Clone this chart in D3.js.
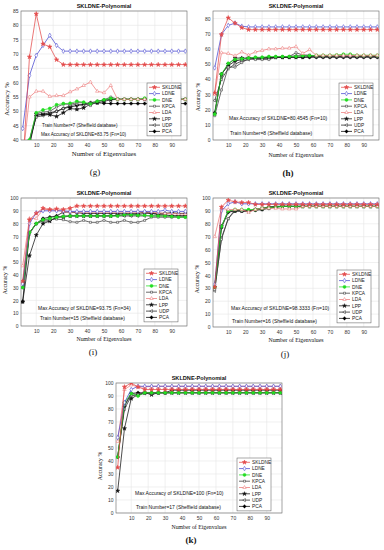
<!DOCTYPE html>
<html><head><meta charset="utf-8">
<script src="https://cdn.jsdelivr.net/npm/d3@7"></script>
<style>body{margin:0;background:#fff}svg{display:block}</style>
</head><body><svg id="c" width="384" height="550"></svg>
<script>
const eigenvalues = [2,6,10,14,18,22,26,30,34,38,42,46,50,54,58,62,66,70,74,78,82,86,90,94,98];
const seriesNames = ["SKLDNE","LDNE","DNE","KPCA","LDA","LPP","UDP","PCA"];
const xTickValues = [10,20,30,40,50,60,70,80,90];
const yTicksG = [40,45,50,55,60,65,70,75,80,85];
const yTicksH = [0,10,20,30,40,50,60,70,80];
const yTicks100 = [0,10,20,30,40,50,60,70,80,90,100];

// (g) Train Number = 7
const gSKLDNE = [30,69,84,73.5,72.5, 68,66.3,66.3,66.3,66.3, 66.3,66.3,66.3,66.3,66.3, 66.3,66.3,66.3,66.3,66.3, 66.3,66.3,66.3,66.3,66.3];
const gLDNE   = [44,62.5,69.5,73,76.5, 73,71,71,71,71, 71,71,71,71,71, 71,71,71,71,71, 71,71,71,71,71];
const gDNE    = [33,40,49.5,50.5,51, 52.3,52.7,52.8,53.5,53.2, 52.6,53.5,54,54.5,54.2, 54.2,54.2,54.2,54.6,54.4, 54.2,54.2,54.2,54.2,54.2];
const gKPCA   = [32,40,49.3,49.7,50, 51.5,52.5,52.5,53,53, 52,53.5,54,55,54.2, 54.2,54.2,54.2,54.2,54.2, 54.2,54.2,54.2,54.2,54.2];
const gLDA    = [33,55,57,57,55.2, 55.5,55.5,56.8,57.8,59, 60.2,57,56.5,59,54.2, 54.2,54.2,54.2,54.2,54.2, 54.2,54.2,54.2,54.2,54.2];
const gLPP    = [30,38,49,49,48.8, 48.2,49.5,51,50.7,51.2, 52.5,53,53.5,54,54.2, 54.2,54.2,54.2,54.2,54.2, 54.2,54.2,54.2,54.2,54.2];
const gUDP    = [31,40,48,48.5,49, 50,51,52,52.5,52, 53,53.5,54,54.2,54.2, 54.2,54.2,54.2,54.2,54.2, 54.2,54.2,54.2,54.2,54.2];
const gPCA    = [30,39,48.5,49,49.5, 50,51,51.5,52,52.5, 53,53,52.8,52.7,52.7, 52.7,52.7,52.7,52.7,52.7, 52.7,52.7,52.7,52.7,52.7];

// (h) Train Number = 8
const hSKLDNE = [31,69.5,80.5,77,74, 72.7,72.7,72.7,72.7,72.7, 72.7,72.7,72.7,72.7,72.7, 72.7,72.7,72.7,72.7,72.7, 72.7,72.7,72.7,72.7,72.7];
const hLDNE   = [47.5,69.5,75.5,77,75, 74.5,74.5,74.5,74.5,74.5, 74.5,74.5,74.5,74.5,74.5, 74.5,74.5,74.5,74.5,74.5, 74.5,74.5,74.5,74.5,74.5];
const hDNE    = [17,43.5,50.5,53,53.5, 54,54.5,54.5,55,55, 55,55,55,55.5,55.5, 55.8,55.8,55.8,56,56.5, 56.5,55.8,55.8,55.8,55.8];
const hKPCA   = [16,33,48,48,51, 53.5,53,53,53,54.5, 55,55,57.5,56,56, 55,55,55,55,55, 55,55,55,55,55];
const hLDA    = [30,57.5,57,55.5,58, 56,58,59,60,60, 60.5,60.5,61.5,57,59.5, 55.8,55.8,55.8,55.8,55.8, 55.8,55.8,55.8,55.8,55.8];
const hLPP    = [17,43,50,54,54, 54,54,54,54.5,54.5, 54.5,54.5,54.5,54.5,55, 55,55,55,55,55, 55,55,55,55,55];
const hUDP    = [26,40,47,50,52, 53,54,54,54,54.5, 54.5,55,55.5,55.5,55.5, 55.5,55.5,55.5,55.5,55.5, 55.5,55.5,55.5,55.5,55.5];
const hPCA    = [18,43.5,49,52,53, 54,54,54,54,54.5, 54.5,54.5,54.5,54.5,54.5, 54.5,54.5,54.5,54.5,54.5, 54.5,54.5,54.5,54.5,54.5];

// (i) Train Number = 15
const iSKLDNE = [35,83,88,92,91, 91.5,91,92,93.75,93.75, 93.75,93.75,93.75,93.75,93.75, 93.75,93.75,93.75,93.75,93.75, 93.75,93.75,93.75,93.75,93.75];
const iLDNE   = [33,80,88.5,90,90, 90,90,89.5,89.5,89.5, 89.5,89.5,89.5,89.5,89.5, 89.5,89.5,89.5,89.5,89.5, 89.5,90.5,89.5,89.5,89.5];
const iDNE    = [30,73,80,83,84, 85,85.5,86,86,86, 86,86,86,86,86, 87,87,86.5,86.5,86, 86,86,85.5,85,85];
const iKPCA   = [30,73,80,83,83, 83.5,83,81.5,81,82.5, 81,81,82.5,81,81, 82.5,81,81,82.5,85, 85,85,85,85,85];
const iLDA    = [47,84,84,91,91, 90.5,89.5,89,89,89, 89,89,89,89,89, 89,89,89,89,89, 88.5,88,88,87.5,87.5];
const iLPP    = [19,55,71,80,82, 85,85,86,86,86, 86,86,86,86,86.5, 87,87,87,88,88, 87,87,86,86,86];
const iUDP    = [30,72,80,82,82, 85,86,86,86,86, 86,86,86,86,86, 86,86,86,86,86, 86,86,86,86,86];
const iPCA    = [19,73,80,84,85, 86,89,89,88.5,88, 88,88,88,88,88, 88,88,88,89,88, 88,88,88.5,88,88];

// (j) Train Number = 16
const jSKLDNE = [31,93,98.3,97,96.5, 96.5,95,95,95,95, 95,95,95,95,95, 95,95,95,95,95, 95,95,95,95,95];
const jLDNE   = [33,90,95.5,97,95.5, 95.5,95.5,95.5,95.5,95.5, 95.5,95.5,95.5,95.5,95.5, 95.5,95.5,95.5,95.5,95.5, 95.5,95.5,95.5,95.5,95.5];
const jDNE    = [31,78,90,91,91, 91,91,92,92.5,93, 93.5,93.5,93.5,93.5,93.5, 93.5,93.5,93.5,93.5,93.5, 93.5,93.5,93.5,93.5,93.5];
const jKPCA   = [29,68,84,91,90, 90.5,91,92,93,93.5, 93.5,93.5,93.5,93.5,93.5, 93.5,93.5,93.5,93.5,93.5, 93.5,93.5,93.5,93.5,93.5];
const jLDA    = [70,92,91,91,91, 89,91,92,92,92, 91.5,91.5,91.5,93.5,93.5, 93.5,93.5,93.5,93.5,93.5, 93.5,93.5,93.5,93.5,93.5];
const jLPP    = [31,78,90,90,90, 89.5,91,91.5,92.5,93, 93.5,93.5,93.5,93.5,93.5, 93.5,93.5,93.5,93.5,93.5, 93.5,93.5,93.5,93.5,93.5];
const jUDP    = [28,69,84,90,90, 90,91,92,93,93.5, 93.5,93.5,93.5,93.5,93.5, 93.5,93.5,93.5,93.5,93.5, 93.5,93.5,93.5,93.5,93.5];
const jPCA    = [31,77,89,90,90, 90,90.5,91,92,93, 93.5,93.5,93.5,93.5,93.5, 93.5,93.5,93.5,93.5,93.5, 93.5,93.5,93.5,93.5,93.5];

// (k) Train Number = 17
const kSKLDNE = [35,97,100,97,95, 95,95,95,95,95, 95,95,95,95,95, 95,95,95,95,95, 95,95,95,95,95];
const kLDNE   = [58,85,95,97.5,97.5, 97.5,97.5,97.5,97.5,97.5, 97.5,97.5,97.5,97.5,97.5, 97.5,97.5,97.5,97.5,97.5, 97.5,97.5,97.5,97.5,97.5];
const kDNE    = [43,85,92,90,92.5, 92.5,92.5,92.5,92.5,92.5, 92.5,92.5,92.5,92.5,92.5, 92.5,92.5,92.5,92.5,92.5, 92.5,92.5,92.5,92.5,92.5];
const kKPCA   = [43,83,92,91,92.5, 92,92.5,92.5,92.5,92.5, 92.5,92.5,92.5,92.5,92.5, 92.5,92.5,92.5,92.5,92.5, 92.5,92.5,92.5,92.5,92.5];
const kLDA    = [55,95,98.5,97,97, 97.5,97.5,97.5,97.5,97.5, 97.5,97.5,97.5,97.5,97.5, 97.5,97.5,97.5,97.5,97.5, 97.5,97.5,97.5,97.5,97.5];
const kLPP    = [17,65,88,91,92.5, 91,92.5,92.5,92.5,92.5, 92.5,92.5,92.5,92.5,92.5, 92.5,92.5,92.5,92.5,92.5, 92.5,92.5,92.5,92.5,92.5];
const kUDP    = [43,80,90,91,92, 92.5,92.5,92.5,92.5,92.5, 92.5,92.5,92.5,92.5,92.5, 92.5,92.5,92.5,92.5,92.5, 92.5,92.5,92.5,92.5,92.5];
const kPCA    = [43,82,92,92.5,92.5, 92.5,92.5,92.5,94.5,94.5, 94.5,94.5,94.5,94.5,94.5, 94.5,94.5,94.5,94.5,94.5, 94.5,94.5,94.5,94.5,94.5];

const styles = {
  SKLDNE:{color:"#e34a4a", sym:d3.symbolStar, fill:true, size:6},
  LDNE:{color:"#4848d0", sym:d3.symbolDiamond, fill:false, size:6},
  DNE:{color:"#22dd22", sym:d3.symbolCircle, fill:true, size:7},
  KPCA:{color:"#3a3a3a", sym:d3.symbolSquare, fill:false, size:4},
  LDA:{color:"#ec7a7a", sym:d3.symbolTriangle, fill:false, size:5},
  LPP:{color:"#111", sym:d3.symbolStar, fill:true, size:5},
  UDP:{color:"#222", sym:d3.symbolTriangle, fill:false, size:4, rot:-90},
  PCA:{color:"#000", sym:d3.symbolCross, fill:true, size:5}
};
const drawOrder = ["PCA","UDP","LPP","KPCA","DNE","LDA","LDNE","SKLDNE"];

const svg = d3.select("#c");
const sans = "'Liberation Sans', Arial, sans-serif";
const serif = "'Liberation Serif', 'Times New Roman', serif";

function panel(cfg, idx){
  const x = d3.scaleLinear().domain([1,99]).range([cfg.l, cfg.r]);
  const y = d3.scaleLinear().domain(cfg.yDom).range([cfg.b, cfg.t]);
  const g = svg.append("g");
  g.append("g").selectAll("line").data(xTickValues).join("line")
    .attr("x1",d=>x(d)).attr("x2",d=>x(d)).attr("y1",cfg.t).attr("y2",cfg.b)
    .attr("stroke","#e6e6e6").attr("stroke-width",0.6);
  g.append("g").selectAll("line").data(cfg.yTicks).join("line")
    .attr("x1",cfg.l).attr("x2",cfg.r).attr("y1",d=>y(d)).attr("y2",d=>y(d))
    .attr("stroke","#e6e6e6").attr("stroke-width",0.6);
  const xa = g.append("g").attr("transform",`translate(0,${cfg.b})`)
    .call(d3.axisBottom(x).tickValues(xTickValues).tickSize(0).tickPadding(3));
  const ya = g.append("g").attr("transform",`translate(${cfg.l},0)`)
    .call(d3.axisLeft(y).tickValues(cfg.yTicks).tickSize(0).tickPadding(2.5));
  [xa,ya].forEach(a=>{a.select(".domain").remove();
    a.selectAll("text").attr("font-family",sans).attr("font-size",cfg.tickFs).attr("fill","#333");});
  g.append("rect").attr("x",cfg.l).attr("y",cfg.t).attr("width",cfg.r-cfg.l).attr("height",cfg.b-cfg.t)
    .attr("fill","none").attr("stroke","#666").attr("stroke-width",0.6);
  const cid = "clip"+idx;
  svg.append("clipPath").attr("id",cid).append("rect")
    .attr("x",cfg.l).attr("y",cfg.t).attr("width",cfg.r-cfg.l).attr("height",cfg.b-cfg.t);
  const plot = g.append("g").attr("clip-path",`url(#${cid})`);
  const line = d3.line().x((d,i)=>x(eigenvalues[i])).y(d=>y(d));
  drawOrder.forEach(name=>{
    const st = styles[name]; const vals = cfg.data[name];
    plot.append("path").datum(vals).attr("d",line).attr("fill","none")
      .attr("stroke",st.color).attr("stroke-width",0.75);
    const sym = d3.symbol().type(st.sym).size(st.size)();
    plot.append("g").selectAll("path").data(vals).join("path")
      .attr("d",sym)
      .attr("transform",(d,i)=>`translate(${x(eigenvalues[i])},${y(d)}) rotate(${st.rot||0})`)
      .attr("fill",st.fill?st.color:"#fff").attr("stroke",st.color).attr("stroke-width",0.55);
  });
  g.append("text").attr("x",(cfg.l+cfg.r)/2).attr("y",cfg.t-3).attr("text-anchor","middle")
    .attr("font-family",sans).attr("font-weight","bold").attr("font-size",5.6).attr("fill","#111")
    .text("SKLDNE-Polynomial");
  g.append("text").attr("x",(cfg.l+cfg.r)/2).attr("y",cfg.xlY).attr("text-anchor","middle")
    .attr("font-family",serif).attr("font-size",cfg.labFs).attr("fill","#111").text("Number of Eigenvalues");
  g.append("text").attr("transform",`translate(${cfg.ylX},${cfg.ylY}) rotate(-90)`).attr("text-anchor","middle")
    .attr("font-family",serif).attr("font-size",cfg.labFs).attr("fill","#111").text("Accuracy %");
  cfg.notes.forEach(n=>{
    g.append("text").attr("x",n[0]).attr("y",n[1]).attr("font-family",sans).attr("font-size",cfg.noteFs)
      .attr("fill","#111").text(n[2]);
  });
  const lg = g.append("g").attr("transform",`translate(${cfg.lgX},${cfg.lgY})`);
  const rowH = 6.3;
  lg.append("rect").attr("width",34).attr("height",rowH*8+2.5).attr("fill","#fff")
    .attr("stroke","#555").attr("stroke-width",0.5);
  seriesNames.forEach((name,i)=>{
    const st = styles[name]; const yy = 4.3 + i*rowH;
    lg.append("line").attr("x1",2).attr("x2",13).attr("y1",yy).attr("y2",yy)
      .attr("stroke",st.color).attr("stroke-width",0.75);
    lg.append("path").attr("d",d3.symbol().type(st.sym).size(st.size)())
      .attr("transform",`translate(7.5,${yy}) rotate(${st.rot||0})`)
      .attr("fill",st.fill?st.color:"#fff").attr("stroke",st.color).attr("stroke-width",0.55);
    lg.append("text").attr("x",15).attr("y",yy+1.8).attr("font-family",sans).attr("font-size",4.8)
      .attr("fill","#222").text(name);
  });
  svg.append("text").attr("x",cfg.sub[0]).attr("y",cfg.sub[1]).attr("text-anchor","middle")
    .attr("font-family",serif).attr("font-size",9).attr("font-weight",cfg.sub[3]?"bold":"normal")
    .attr("fill","#111").text(cfg.sub[2]);
}

const pack = (a,b,c,d,e,f,gg,h)=>({SKLDNE:a,LDNE:b,DNE:c,KPCA:d,LDA:e,LPP:f,UDP:gg,PCA:h});

const panels = [
  {l:21,r:187,t:11,b:140,yDom:[40,85],yTicks:yTicksG,tickFs:5,labFs:6.8,noteFs:4.6,
   xlY:155.5,ylX:9,ylY:99,
   data:pack(gSKLDNE,gLDNE,gDNE,gKPCA,gLDA,gLPP,gUDP,gPCA),
   notes:[[42,127,"Train Number=7 (Sheffield database)"],[41,136,"Max Accuracy of SKLDNE=83.75 (Fn=10)"]],
   lgX:147,lgY:83,sub:[95,175,"(g)",false]},
  {l:213,r:379,t:11,b:140,yDom:[0,85],yTicks:yTicksH,tickFs:5,labFs:5.8,noteFs:5,
   xlY:157,ylX:200,ylY:97,
   data:pack(hSKLDNE,hLDNE,hDNE,hKPCA,hLDA,hLPP,hUDP,hPCA),
   notes:[[229,119.5,"Max Accuracy of SKLDNE=80.4545 (Fn=10)"],[230,134.5,"Train Number=8 (Sheffield database)"]],
   lgX:339,lgY:83,sub:[288,176,"(h)",true]},
  {l:21,r:187,t:198,b:326,yDom:[0,100],yTicks:yTicks100,tickFs:5,labFs:5.8,noteFs:5,
   xlY:341,ylX:7,ylY:280,
   data:pack(iSKLDNE,iLDNE,iDNE,iKPCA,iLDA,iLPP,iUDP,iPCA),
   notes:[[38,309.5,"Max Accuracy of SKLDNE=93.75 (Fn=34)"],[40,319.5,"Train Number=15 (Sheffield database)"]],
   lgX:144,lgY:269,sub:[93,355,"(i)",false]},
  {l:213,r:379,t:198,b:327,yDom:[0,100],yTicks:yTicks100,tickFs:5,labFs:5.8,noteFs:5,
   xlY:342,ylX:199,ylY:279,
   data:pack(jSKLDNE,jLDNE,jDNE,jKPCA,jLDA,jLPP,jUDP,jPCA),
   notes:[[231,309.5,"Max Accuracy of SKLDNE=98.3333 (Fn=10)"],[232,323,"Train Number=16 (Sheffield database)"]],
   lgX:337,lgY:270,sub:[285,357,"(j)",false]},
  {l:116,r:282,t:383,b:513,yDom:[0,100],yTicks:yTicks100,tickFs:5,labFs:5.8,noteFs:5,
   xlY:529,ylX:102,ylY:466,
   data:pack(kSKLDNE,kLDNE,kDNE,kKPCA,kLDA,kLPP,kUDP,kPCA),
   notes:[[135,494.5,"Max Accuracy of SKLDNE=100 (Fn=10)"],[136,509,"Train Number=17 (Sheffield database)"]],
   lgX:237,lgY:458,sub:[191,543,"(k)",true]}
];
panels.forEach(panel);
</script></body></html>
